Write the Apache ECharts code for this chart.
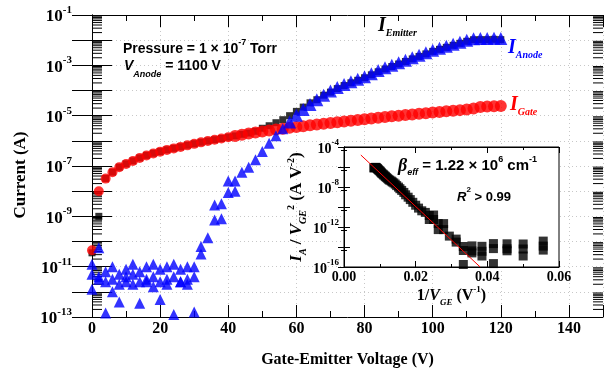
<!DOCTYPE html>
<html><head><meta charset="utf-8">
<script src="https://cdn.jsdelivr.net/npm/echarts/dist/echarts.min.js"></script>
<style>html,body{margin:0;padding:0;background:#fff}#c{width:607px;height:376px}</style>
</head><body><div id="c"></div>
<script>
// ---- main chart data (gate-emitter voltage in V, currents in A) ----
const voltages = [0,2,4,6,8,10,12,14,16,18,20,22,24,26,28,30,32,34,36,38,40,42,44,46,48,50,52,54,56,58,60,62,64,66,68,70,72,74,76,78,80,82,84,86,88,90,92,94,96,98,100,102,104,106,108,110,112,114,116,118,120];
const gateCurrent = [4.47e-11,1.0e-8,3.16e-8,5.62e-8,8.91e-8,1.20e-7,1.58e-7,2.09e-7,2.63e-7,3.16e-7,3.72e-7,4.37e-7,5.01e-7,5.75e-7,6.61e-7,7.59e-7,8.71e-7,9.77e-7,1.10e-6,1.23e-6,1.38e-6,1.55e-6,1.74e-6,1.95e-6,2.14e-6,2.34e-6,2.57e-6,2.82e-6,3.02e-6,3.31e-6,3.55e-6,3.80e-6,4.17e-6,4.47e-6,4.79e-6,5.13e-6,5.50e-6,5.89e-6,6.31e-6,6.76e-6,7.24e-6,7.76e-6,8.32e-6,8.91e-6,9.55e-6,1.00e-5,1.07e-5,1.12e-5,1.20e-5,1.26e-5,1.35e-5,1.41e-5,1.51e-5,1.58e-5,1.66e-5,1.74e-5,1.91e-5,2.19e-5,2.29e-5,2.34e-5,2.40e-5];
const emitterCurrent = [3.55e-11,1.0e-9,3.2e-8,5.7e-8,9.0e-8,1.22e-7,1.6e-7,2.1e-7,2.65e-7,3.2e-7,3.75e-7,4.4e-7,5.05e-7,5.8e-7,6.7e-7,7.7e-7,8.8e-7,9.9e-7,1.11e-6,1.24e-6,1.40e-6,1.57e-6,1.82e-6,2.04e-6,2.40e-6,3.16e-6,3.98e-6,5.25e-6,6.92e-6,1.0e-5,1.48e-5,2.19e-5,3.24e-5,4.3e-5,6.5e-5,8.6e-5,1.19e-4,1.57e-4,2.02e-4,2.54e-4,3.2e-4,4.2e-4,5.55e-4,7.15e-4,9.0e-4,1.13e-3,1.42e-3,1.8e-3,2.26e-3,2.84e-3,3.58e-3,4.31e-3,5.18e-3,6.23e-3,7.49e-3,9.0e-3,1.04e-2,1.05e-2,1.05e-2,1.08e-2,1.05e-2];
const anodeCurrent = [1.26e-11,5.62e-11,6.31e-12,1.0e-11,5.01e-12,7.94e-12,1.26e-11,6.31e-12,1.0e-11,1.26e-11,7.94e-12,1.0e-11,1.26e-11,7.94e-12,1.0e-11,1.0e-11,3.16e-11,1.41e-10,7.08e-10,7.94e-10,8.91e-9,1.0e-8,5.62e-8,8.91e-8,1.78e-7,3.80e-7,7.94e-7,1.58e-6,3.02e-6,5.62e-6,1.05e-5,1.74e-5,2.75e-5,4.27e-5,6.46e-5,9.55e-5,1.32e-4,1.74e-4,2.24e-4,2.82e-4,3.55e-4,4.68e-4,6.17e-4,7.94e-4,1.0e-3,1.26e-3,1.58e-3,2.0e-3,2.51e-3,3.16e-3,3.98e-3,4.79e-3,5.75e-3,6.92e-3,8.32e-3,1.0e-2,1.15e-2,1.17e-2,1.17e-2,1.20e-2,1.17e-2];
// repeated anode readings (noise floor and early rise)
const anodeRepeatV = [0,2,4,6,8,10,12,14,16,18,20,22,24,26,28,30, 0,2,4,6,8,10,12,14,16,18,20,22,24,26,28,30, 32,36,38,40,42];
const anodeRepeatI = [1.26e-12,3.16e-12,1.45e-13,1.0e-12,3.98e-13,2.51e-12,2.0e-12,3.55e-13,2.51e-12,1.58e-12,5.01e-13,2.0e-12,1.26e-13,2.51e-12,2.0e-12,1.58e-13,
  5.01e-12,3.98e-12,2.51e-12,3.16e-12,2.0e-12,3.98e-12,5.01e-12,2.51e-12,3.16e-12,3.98e-12,2.51e-12,3.16e-12,3.98e-12,2.51e-12,3.16e-12,3.98e-12,
  6.31e-11,2.82e-9,3.16e-9,2.51e-8,2.51e-8];

// ---- inset data: 1/V_GE (1/V) vs I_A/V_GE^2 (A/V^2) ----
const insetInvV = [0.0556,0.05,0.0455,0.0417,0.0385,0.0357,0.0333,0.0313,0.0294,0.0278,0.0263,0.025,0.0238,0.0227,0.0217,0.0208,0.02,0.0192,0.0185,0.0179,0.0172,0.0167,0.0161,0.0156,0.0152,0.0147,0.0143,0.0139,0.0135,0.0132,0.0128,0.0125,0.0122,0.0119,0.0116,0.0114,0.0111,0.0109,0.0106,0.0104,0.0102,0.01,0.0098,0.0096,0.0094,0.0093,0.0091,0.0089,0.0088,0.0086,0.0085,0.0083,
  0.0556,0.05,0.0455,0.0417,0.0385,0.0357,0.0333, 0.0556,0.05,0.0455,0.0417,0.0385,0.0357,0.0333, 0.0313,0.0278,0.0263,0.025,0.0238];
const insetRatio = [3.89e-14,2.0e-14,2.09e-14,2.19e-14,1.17e-14,1.29e-14,1.12e-14,3.09e-14,1.23e-13,5.50e-13,5.50e-13,5.62e-12,5.62e-12,2.88e-11,4.17e-11,7.76e-11,1.51e-10,2.95e-10,5.50e-10,9.55e-10,1.66e-9,2.88e-9,4.57e-9,6.76e-9,9.77e-9,1.38e-8,1.95e-8,2.57e-8,3.16e-8,3.89e-8,4.68e-8,5.50e-8,6.92e-8,8.71e-8,1.07e-7,1.29e-7,1.55e-7,1.86e-7,2.24e-7,2.75e-7,3.31e-7,3.98e-7,4.57e-7,5.37e-7,6.17e-7,7.08e-7,8.32e-7,9.12e-7,9.12e-7,8.71e-7,8.51e-7,8.13e-7,
  4.9e-15,1.26e-15,4.17e-15,2.19e-16,3.72e-15,2.57e-15,1.78e-16, 1.23e-14,6.31e-15,6.61e-15,6.92e-15,1.26e-15,4.07e-15,4.47e-15, 6.17e-14,2.19e-12,2.19e-12,1.58e-11,1.41e-11];
// Fowler-Nordheim fit line end points
const fitInvV = [0.0047, 0.038];
const fitRatio = [1.58e-5, 1.0e-16];

// ---- axis tick settings ----
const mainYTickExponents = [-13,-12,-11,-10,-9,-8,-7,-6,-5,-4,-3,-2,-1];
const mainMinorMantissas = [2,3,4,5,6,7,8,9];

const serif = 'Liberation Serif', sans = 'Liberation Sans';
const minorTickValues = [];
mainYTickExponents.slice(0, -1).forEach(e => mainMinorMantissas.forEach(m => minorTickValues.push([0, m * Math.pow(10, e)])));

const supRich = (size, sup) => ({
  b: {fontFamily: serif, fontWeight: 'bold', fontSize: size, color: '#000', lineHeight: size + 4, verticalAlign: 'bottom'},
  s: {fontFamily: serif, fontWeight: 'bold', fontSize: sup, color: '#000', lineHeight: size + 4, verticalAlign: 'top'}
});
const expOf = v => Math.round(Math.log10(v));

const chart = echarts.init(document.getElementById('c'), null, {renderer: 'canvas'});
const black = {lineStyle: {color: '#000', width: 1}};
const dotted = {show: true, lineStyle: {color: '#c8c8c8', type: [1, 3], width: 1}};

const option = {
  animation: false,
  backgroundColor: '#fff',
  grid: [
    {left: 92, top: 15, width: 511, height: 302, show: false},
    {left: 344, top: 147, width: 215, height: 120, show: true, backgroundColor: '#fff', borderColor: '#000', borderWidth: 1, z: 5}
  ],
  xAxis: [
    {gridIndex: 0, type: 'value', min: 0, max: 150, interval: 20, position: 'bottom',
      axisLine: black, axisTick: {inside: true, length: 12, lineStyle: {color: '#000'}},
      axisLabel: {formatter: v => v > 140 ? '' : String(v), fontFamily: serif, fontWeight: 'bold', fontSize: 16, color: '#000', margin: 4},
      splitLine: dotted,
      name: 'Gate-Emitter Voltage (V)', nameLocation: 'middle', nameGap: 35,
      nameTextStyle: {fontFamily: serif, fontWeight: 'bold', fontSize: 16, color: '#000'}},
    {gridIndex: 0, type: 'value', min: 0, max: 150, interval: 10, position: 'bottom',
      axisLine: {show: false}, axisTick: {inside: true, length: 6, lineStyle: {color: '#000'}},
      axisLabel: {show: false}, splitLine: {show: false}},
    {gridIndex: 0, type: 'value', min: 0, max: 150, interval: 20, position: 'top',
      axisLine: black, axisTick: {inside: true, length: 12, lineStyle: {color: '#000'}},
      axisLabel: {show: false}, splitLine: {show: false}},
    {gridIndex: 0, type: 'value', min: 0, max: 150, interval: 10, position: 'top',
      axisLine: {show: false}, axisTick: {inside: true, length: 6, lineStyle: {color: '#000'}},
      axisLabel: {show: false}, splitLine: {show: false}},
    {gridIndex: 1, type: 'value', min: 0, max: 0.06, interval: 0.02, position: 'bottom', z: 6,
      axisLine: black, axisTick: {inside: true, length: 6, lineStyle: {color: '#000'}},
      minorTick: {show: true, splitNumber: 2, length: 3, lineStyle: {color: '#000'}},
      axisLabel: {formatter: v => v.toFixed(2), fontFamily: serif, fontWeight: 'bold', fontSize: 14, color: '#000', margin: 3},
      splitLine: {show: false},
      name: '{n|1/}{i|V}{sub|GE}{n| (V}{sup|-1}{n|)}', nameLocation: 'middle', nameGap: 18,
      nameTextStyle: {rich: {
        n: {fontFamily: serif, fontWeight: 'bold', fontSize: 16, color: '#000', lineHeight: 22, verticalAlign: 'middle'},
        i: {fontFamily: serif, fontWeight: 'bold', fontStyle: 'italic', fontSize: 16, color: '#000', lineHeight: 22, verticalAlign: 'middle'},
        sub: {fontFamily: serif, fontWeight: 'bold', fontStyle: 'italic', fontSize: 9, color: '#000', lineHeight: 22, verticalAlign: 'bottom'},
        sup: {fontFamily: serif, fontWeight: 'bold', fontSize: 9, color: '#000', lineHeight: 22, verticalAlign: 'top'}}}},
    {gridIndex: 1, type: 'value', min: 0, max: 0.06, interval: 0.02, position: 'top', z: 6,
      axisLine: black, axisTick: {inside: true, length: 6, lineStyle: {color: '#000'}},
      minorTick: {show: true, splitNumber: 2, length: 3, lineStyle: {color: '#000'}},
      axisLabel: {show: false}, splitLine: {show: false}}
  ],
  yAxis: [
    {gridIndex: 0, type: 'log', logBase: 10, min: 1e-13, max: 1e-1, interval: 1, splitNumber: 12, position: 'left',
      axisLine: black, axisTick: {inside: true, length: 20, lineStyle: {color: '#000'}},
      axisLabel: {formatter: v => { const e = expOf(v); return Math.abs(e) % 2 === 1 ? '{b|10}{s|' + e + '}' : ''; },
        rich: supRich(17, 11), margin: 20},
      splitLine: dotted,
      name: 'Current (A)', nameLocation: 'middle', nameGap: 52,
      nameTextStyle: {fontFamily: serif, fontWeight: 'bold', fontSize: 17, color: '#000', padding: [0, 18, 0, 0]}},
    {gridIndex: 0, type: 'log', logBase: 10, min: 1e-13, max: 1e-1, interval: 1, splitNumber: 12, position: 'right',
      axisLine: black, axisTick: {inside: true, length: 20, lineStyle: {color: '#000'}},
      axisLabel: {show: false}, splitLine: {show: false}},
    {gridIndex: 1, type: 'log', logBase: 10, min: 1e-16, max: 1e-4, interval: 2, splitNumber: 6, position: 'left', z: 6,
      axisLine: black, axisTick: {inside: true, length: 6, lineStyle: {color: '#000'}},
      minorTick: {show: true, splitNumber: 2, length: 3, lineStyle: {color: '#000'}},
      axisLabel: {formatter: v => { const e = expOf(v); return e % 4 === 0 ? '{b|10}{s|' + e + '}' : ''; },
        rich: supRich(14, 9), margin: 5},
      splitLine: {show: false},
      name: '{i|I}{sub|A}{n| / }{i|V}{sub|GE}{sup|2}{n| (A V}{sup|-2}{n|)}', nameLocation: 'middle', nameGap: 36,
      nameTextStyle: {rich: {
        n: {fontFamily: serif, fontWeight: 'bold', fontSize: 17, color: '#000', lineHeight: 22, verticalAlign: 'middle'},
        i: {fontFamily: serif, fontWeight: 'bold', fontStyle: 'italic', fontSize: 17, color: '#000', lineHeight: 22, verticalAlign: 'middle'},
        sub: {fontFamily: serif, fontWeight: 'bold', fontStyle: 'italic', fontSize: 10, color: '#000', lineHeight: 22, verticalAlign: 'bottom'},
        sup: {fontFamily: serif, fontWeight: 'bold', fontSize: 10, color: '#000', lineHeight: 22, verticalAlign: 'top'}}}},
    {gridIndex: 1, type: 'log', logBase: 10, min: 1e-16, max: 1e-4, interval: 2, splitNumber: 6, position: 'right', z: 6,
      axisLine: black, axisTick: {inside: true, length: 6, lineStyle: {color: '#000'}},
      minorTick: {show: true, splitNumber: 2, length: 3, lineStyle: {color: '#000'}},
      axisLabel: {show: false}, splitLine: {show: false}}
  ],
  series: [
    {type: 'custom', xAxisIndex: 0, yAxisIndex: 0, z: 1, silent: true, clip: false,
      data: minorTickValues,
      renderItem: (params, api) => {
        const p = api.coord([0, api.value(1)]);
        const q = api.coord([150, api.value(1)]);
        return {type: 'group', children: [
          {type: 'line', shape: {x1: p[0], y1: p[1], x2: p[0] + 10, y2: p[1]}, style: {stroke: '#000', lineWidth: 1}},
          {type: 'line', shape: {x1: q[0] - 10, y1: q[1], x2: q[0], y2: q[1]}, style: {stroke: '#000', lineWidth: 1}}
        ]};
      }},
    {name: 'I_Emitter', type: 'scatter', xAxisIndex: 0, yAxisIndex: 0, z: 2, silent: true,
      symbol: 'rect', symbolSize: 7, itemStyle: {color: '#000'},
      data: voltages.map((v, i) => [v, emitterCurrent[i]])},
    {name: 'I_Gate', type: 'scatter', xAxisIndex: 0, yAxisIndex: 0, z: 3, silent: true,
      symbol: 'circle', symbolSize: d => d[0] > 40 ? 12 : 10, itemStyle: {color: '#ff0000'},
      data: voltages.map((v, i) => [v, gateCurrent[i]])},
    {name: 'I_Anode', type: 'scatter', xAxisIndex: 0, yAxisIndex: 0, z: 4, silent: true,
      symbol: 'triangle', symbolSize: d => d[0] > 56 ? 13 : 11, itemStyle: {color: '#0000ff'},
      data: voltages.map((v, i) => [v, anodeCurrent[i]]).concat(anodeRepeatV.map((v, i) => [v, anodeRepeatI[i]]))},
    {name: 'FN', type: 'scatter', xAxisIndex: 4, yAxisIndex: 2, z: 7, silent: true,
      symbol: 'rect', symbolSize: 9, itemStyle: {color: '#000'},
      data: insetInvV.map((x, i) => [x, insetRatio[i]])},
    {name: 'fit', type: 'line', xAxisIndex: 4, yAxisIndex: 2, z: 8, silent: true, showSymbol: false, clip: true,
      lineStyle: {color: '#ff0000', width: 1},
      data: fitInvV.map((x, i) => [x, fitRatio[i]])}
  ],
  graphic: [
    {type: 'text', left: 123, top: 38, z: 100, style: {
      text: '{a|Pressure = 1 × 10}{s|-7}{a| Torr}',
      rich: {a: {fontFamily: sans, fontWeight: 'bold', fontSize: 14, fill: '#000', lineHeight: 18, verticalAlign: 'bottom'},
             s: {fontFamily: sans, fontWeight: 'bold', fontSize: 9, fill: '#000', lineHeight: 18, verticalAlign: 'top'}}}},
    {type: 'text', left: 124, top: 57, z: 100, style: {
      text: '{i|V}{sub|Anode}{a| = 1100 V}',
      rich: {a: {fontFamily: sans, fontWeight: 'bold', fontSize: 14, fill: '#000', lineHeight: 22, verticalAlign: 'top', padding: [2, 0, 0, 0]},
             i: {fontFamily: sans, fontWeight: 'bold', fontStyle: 'italic', fontSize: 14, fill: '#000', lineHeight: 22, verticalAlign: 'top', padding: [2, 0, 0, 0]},
             sub: {fontFamily: sans, fontWeight: 'bold', fontStyle: 'italic', fontSize: 9, fill: '#000', lineHeight: 22, verticalAlign: 'bottom'}}}},
    {type: 'text', left: 378, top: 16, z: 100, style: {
      text: '{I|I}{sub|Emitter}',
      rich: {I: {fontFamily: serif, fontWeight: 'bold', fontStyle: 'italic', fontSize: 20, fill: '#000', lineHeight: 22, verticalAlign: 'top'},
             sub: {fontFamily: serif, fontWeight: 'bold', fontStyle: 'italic', fontSize: 10, fill: '#000', lineHeight: 22, verticalAlign: 'bottom'}}}},
    {type: 'text', left: 508, top: 38, z: 100, style: {
      text: '{I|I}{sub|Anode}',
      rich: {I: {fontFamily: serif, fontWeight: 'bold', fontStyle: 'italic', fontSize: 20, fill: '#0000ff', lineHeight: 22, verticalAlign: 'top'},
             sub: {fontFamily: serif, fontWeight: 'bold', fontStyle: 'italic', fontSize: 10, fill: '#0000ff', lineHeight: 22, verticalAlign: 'bottom'}}}},
    {type: 'text', left: 510, top: 95, z: 100, style: {
      text: '{I|I}{sub|Gate}',
      rich: {I: {fontFamily: serif, fontWeight: 'bold', fontStyle: 'italic', fontSize: 20, fill: '#ff0000', lineHeight: 22, verticalAlign: 'top'},
             sub: {fontFamily: serif, fontWeight: 'bold', fontStyle: 'italic', fontSize: 10, fill: '#ff0000', lineHeight: 22, verticalAlign: 'bottom'}}}},
    {type: 'text', left: 398, top: 155, z: 100, style: {
      text: '{g|β}{sub|eff}{a| = 1.22 × 10}{s|6}{a| cm}{s|-1}',
      rich: {g: {fontFamily: serif, fontWeight: 'bold', fontStyle: 'italic', fontSize: 18, fill: '#000', lineHeight: 22, verticalAlign: 'middle'},
             a: {fontFamily: sans, fontWeight: 'bold', fontSize: 15, fill: '#000', lineHeight: 22, verticalAlign: 'middle'},
             sub: {fontFamily: sans, fontWeight: 'bold', fontStyle: 'italic', fontSize: 9, fill: '#000', lineHeight: 22, verticalAlign: 'bottom'},
             s: {fontFamily: sans, fontWeight: 'bold', fontSize: 9, fill: '#000', lineHeight: 22, verticalAlign: 'top'}}}},
    {type: 'text', left: 457, top: 186, z: 100, style: {
      text: '{i|R}{s|2}{a| > 0.99}',
      rich: {i: {fontFamily: sans, fontWeight: 'bold', fontStyle: 'italic', fontSize: 13, fill: '#000', lineHeight: 18, verticalAlign: 'bottom'},
             a: {fontFamily: sans, fontWeight: 'bold', fontSize: 13, fill: '#000', lineHeight: 18, verticalAlign: 'bottom'},
             s: {fontFamily: sans, fontWeight: 'bold', fontSize: 8, fill: '#000', lineHeight: 18, verticalAlign: 'top'}}}}
  ]
};
chart.setOption(option);
</script>
</body></html>
